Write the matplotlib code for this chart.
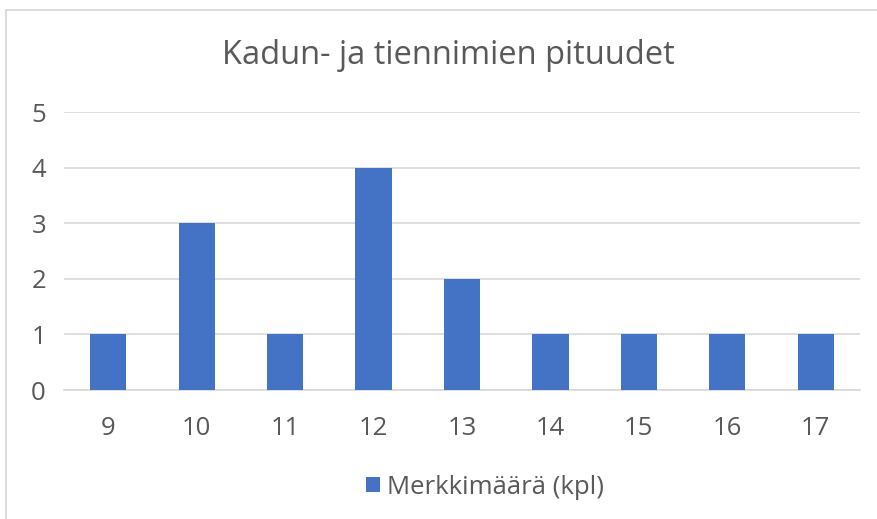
import matplotlib
matplotlib.use('Agg')
import matplotlib.pyplot as plt
from matplotlib.patches import Rectangle

categories = ["9", "10", "11", "12", "13", "14", "15", "16", "17"]
counts = [1, 3, 1, 4, 2, 1, 1, 1, 1]
title = "Kadun- ja tiennimien pituudet"
series_name = "Merkkimäärä (kpl)"

BAR = "#4472C4"
TEXT = "#595959"
GRID = "#D9D9D9"

plt.rcParams['font.family'] = ['Open Sans', 'DejaVu Sans']

W, H = 877, 519
fig = plt.figure(figsize=(W / 100, H / 100), dpi=100)

# chart border
fig.patches.append(Rectangle((5.5 / W, -0.05), 1.2, 1 - 9.5 / H + 0.05,
                             transform=fig.transFigure, fill=False,
                             edgecolor=GRID, linewidth=1.3))

ax = fig.add_axes([64 / W, 1 - 390 / H, (860 - 64) / W, (390 - 112) / H])
x = range(len(categories))
ax.bar(x, counts, width=0.41, color=BAR, zorder=3, label=series_name)

ax.set_xlim(-0.5, len(categories) - 0.5)
ax.set_ylim(0, 5)
ax.set_yticks(range(0, 6))
ax.set_xticks(list(x))
ax.set_xticklabels(categories)
ax.yaxis.grid(True, color=GRID, linewidth=1.2, zorder=0)
for s in ["top", "right", "left"]:
    ax.spines[s].set_visible(False)
ax.spines["bottom"].set_color(GRID)
ax.spines["bottom"].set_linewidth(1.2)
ax.tick_params(axis="both", length=0, labelsize=18.5, colors=TEXT)
ax.tick_params(axis="x", pad=19)
ax.tick_params(axis="y", pad=13)

fig.text(448 / W, 1 - 55 / H, title, ha="center", va="center",
         fontsize=23.5, color=TEXT)

fig.legend(loc="center", bbox_to_anchor=(485 / W, 1 - 487 / H), frameon=False,
           fontsize=18.5, labelcolor=TEXT, handlelength=0.55, handleheight=0.55,
           handletextpad=0.3)

plt.savefig("out.png", dpi=100)
plt.close()
